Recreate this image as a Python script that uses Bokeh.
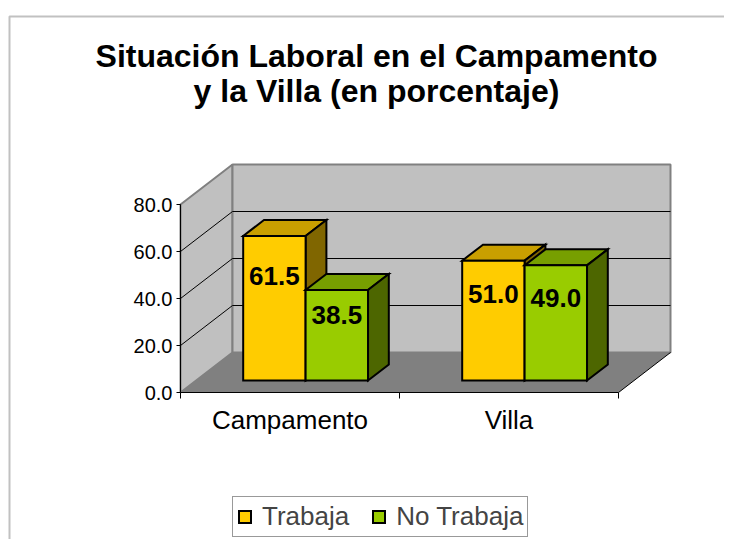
from bokeh.plotting import figure
from bokeh.models import (Range1d, FixedTicker, NumeralTickFormatter, Label,
                          Legend, LegendItem, BoxAnnotation, LinearAxis)
from bokeh.core.properties import value
from bokeh.embed import file_html
from bokeh.resources import INLINE

# ---------------- data ----------------
categories = ["Campamento", "Villa"]
series_names = ["Trabaja", "No Trabaja"]
trabaja = [61.5, 51.0]
no_trabaja = [38.5, 49.0]
y_ticks = [0, 20, 40, 60, 80]
title_lines = ["Situación Laboral en el Campamento", "y la Villa (en porcentaje)"]

# ---------------- style / layout ----------------
FONT = "Liberation Sans"
W, H = 724, 539
ORIGIN = (180.0, 392.0)   # canvas px of the front-left-bottom corner
PX_X = 219.0      # px per category
PX_Y = 2.35       # px per percent
DEPTH_PX = (52.0, 40.0)
BAR_FRAC = 0.285  # bar width as fraction of a category
BAR_Z0, BAR_Z1 = 0.3, 0.7
FRONT = ["#FFCC00", "#99CC00"]
TOP = ["#C99F00", "#779F00"]
SIDE = ["#806600", "#4D6600"]
WALL = "#C0C0C0"
FLOOR = "#808080"

DX = DEPTH_PX[0] / PX_X
DY = DEPTH_PX[1] / PX_Y
NCAT = len(categories)
YMAX = max(y_ticks)


def cx(canvas_x):
    return (canvas_x - ORIGIN[0]) / PX_X


def cy(canvas_y):
    return (ORIGIN[1] - canvas_y) / PX_Y


p = figure(width=W, height=H, output_backend="svg", toolbar_location=None,
           x_range=Range1d(cx(0), cx(W)), y_range=Range1d(cy(H), cy(0)),
           x_axis_location=None, y_axis_location=None,
           min_border=0, title=None)
p.min_border_left = 0
p.min_border_right = 0
p.min_border_top = 0
p.min_border_bottom = 0
p.outline_line_color = None
p.background_fill_color = "white"
p.border_fill_color = "white"
p.xgrid.visible = False
p.ygrid.visible = False

# ---------------- walls and floor ----------------
p.patch([0, DX, DX, 0], [0, DY, YMAX + DY, YMAX], fill_color=WALL,
        line_color=FLOOR, line_width=2)
p.patch([DX, DX + NCAT, DX + NCAT, DX], [DY, DY, YMAX + DY, YMAX + DY],
        fill_color=WALL, line_color=FLOOR, line_width=2)
p.patch([0, NCAT, NCAT + DX, DX], [0, 0, DY, DY], fill_color=FLOOR,
        line_color=None)
p.segment(x0=[NCAT], y0=[0], x1=[NCAT + DX], y1=[DY], line_color="black",
          line_width=1)
inner = [t for t in y_ticks if 0 < t < YMAX]
p.segment(x0=[DX] * len(inner), y0=[t + DY for t in inner],
          x1=[DX + NCAT] * len(inner), y1=[t + DY for t in inner],
          line_color="black", line_width=1)
p.segment(x0=[0] * len(inner), y0=inner, x1=[DX] * len(inner),
          y1=[t + DY for t in inner], line_color="black", line_width=1)

# ---------------- 3D bars ----------------
fx, fy = BAR_Z0 * DX, BAR_Z0 * DY
ddx, ddy = (BAR_Z1 - BAR_Z0) * DX, (BAR_Z1 - BAR_Z0) * DY
bw = BAR_FRAC
front_renderers = []
label_x, label_y, label_t = [], [], []
for s, vals in enumerate([trabaja, no_trabaja]):
    fxs, fys, txs, tys, sxs, sys_ = [], [], [], [], [], []
    for c, v in enumerate(vals):
        x0 = c + 0.5 - bw + s * bw + fx
        x1 = x0 + bw
        y0 = fy
        y1 = fy + v
        fxs.append([x0, x1, x1, x0]); fys.append([y0, y0, y1, y1])
        txs.append([x0, x1, x1 + ddx, x0 + ddx]); tys.append([y1, y1, y1 + ddy, y1 + ddy])
        sxs.append([x1, x1 + ddx, x1 + ddx, x1]); sys_.append([y0, y0 + ddy, y1 + ddy, y1])
        label_x.append((x0 + x1) / 2)
        label_y.append(fy + 0.72 * v)
        label_t.append(f"{v:.1f}")
    p.patches(txs, tys, fill_color=TOP[s], line_color="black", line_width=2,
              line_join="miter")
    p.patches(sxs, sys_, fill_color=SIDE[s], line_color="black", line_width=2,
              line_join="miter")
    r = p.patches(fxs, fys, fill_color=FRONT[s], line_color="black",
                  line_width=2, line_join="miter")
    front_renderers.append(r)

p.text(x=label_x, y=label_y, text=label_t, text_font=value(FONT),
       text_font_style="bold", text_font_size="26px", text_align="center",
       text_baseline="middle", text_color="black")

# ---------------- axes (fixed at the front-left corner) ----------------
ya = LinearAxis(fixed_location=0, bounds=(0, YMAX),
                ticker=FixedTicker(ticks=y_ticks),
                formatter=NumeralTickFormatter(format="0.0"),
                major_label_text_font=FONT, major_label_text_font_size="20px",
                major_label_text_color="black", major_tick_out=4,
                major_tick_in=0, minor_tick_line_color=None,
                axis_line_color="black", major_tick_line_color="black",
                major_label_standoff=4)
p.add_layout(ya, "left")

xa = LinearAxis(fixed_location=0, bounds=(0, NCAT),
                ticker=FixedTicker(ticks=[c + 0.5 for c in range(NCAT)],
                                   minor_ticks=list(range(NCAT + 1))),
                major_label_overrides={c + 0.5: name for c, name in enumerate(categories)},
                major_tick_line_color=None, major_tick_out=0, major_tick_in=0,
                minor_tick_out=6, minor_tick_in=0, minor_tick_line_color="black",
                axis_line_color="black", major_label_text_font=FONT,
                major_label_text_font_size="26px", major_label_text_color="black",
                major_label_standoff=6)
p.add_layout(xa, "below")

# ---------------- title ----------------
for i, line in enumerate(title_lines):
    p.add_layout(Label(x=cx(376), y=cy(55 + 35 * i), text=line,
                       text_font=FONT, text_font_style="bold",
                       text_font_size="32px", text_align="center",
                       text_baseline="alphabetic", text_color="black"))

# ---------------- chart border ----------------
p.add_layout(BoxAnnotation(left=cx(9), top=cy(16), right=cx(W + 40),
                           bottom=cy(H + 40), fill_alpha=0,
                           line_color="#333333", line_width=2))

# ---------------- legend ----------------
legend = Legend(items=[LegendItem(label=series_names[i],
                                  renderers=[front_renderers[i]])
                       for i in range(len(series_names))],
                orientation="horizontal", location=(232, 2),
                label_text_font=FONT, label_text_font_size="26px",
                label_height=16,
                glyph_width=15, glyph_height=15, label_standoff=10,
                spacing=22, padding=4, margin=0,
                border_line_color="#333333", border_line_width=1,
                background_fill_color="white", background_fill_alpha=1)
p.add_layout(legend)

open("out.html", "w").write(file_html(p, INLINE))
